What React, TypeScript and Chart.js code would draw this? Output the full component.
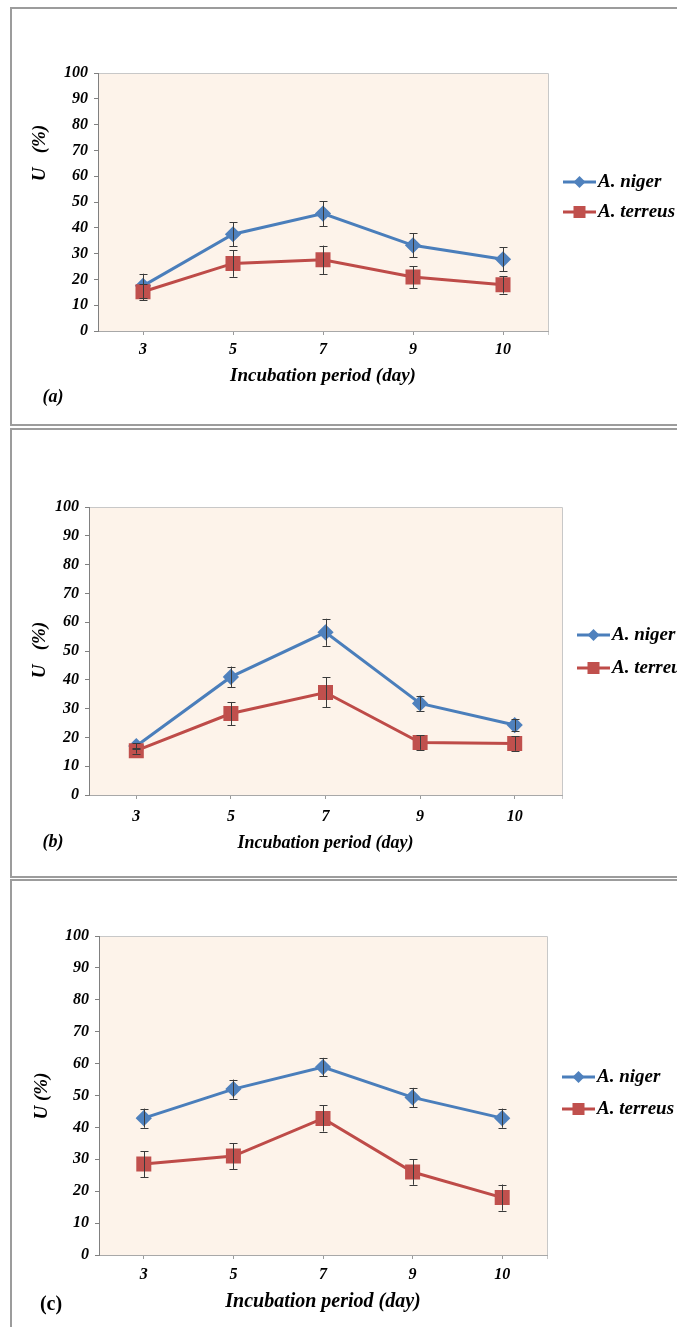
import React, { useEffect, useRef } from 'react';
import { Chart, registerables } from 'chart.js';

Chart.register(...registerables);

// ---------- data ----------
const categories = ['3', '5', '7', '9', '10'];
const seriesNames = ['A. niger', 'A. terreus'];
const xTitle = 'Incubation period (day)';
const yMin = 0;
const yMax = 100;
const yStep = 10;

const nigerA = [17.5, 37.5, 45.5, 33.2, 27.8];
const nigerErrA = [4.7, 4.6, 4.8, 4.6, 4.6];
const terreusA = [15.2, 26.2, 27.6, 20.9, 17.9];
const terreusErrA = [3.2, 5.2, 5.5, 4.2, 3.4];

const nigerB = [17.0, 41.0, 56.5, 31.8, 24.3];
const nigerErrB = [1.0, 3.6, 4.7, 2.5, 2.0];
const terreusB = [15.4, 28.3, 35.6, 18.2, 17.9];
const terreusErrB = [1.0, 4.0, 5.2, 2.5, 2.5];

const nigerC = [42.9, 52.0, 58.9, 49.4, 42.9];
const nigerErrC = [3.0, 3.0, 2.9, 3.0, 3.0];
const terreusC = [28.5, 31.0, 42.8, 26.0, 18.0];
const terreusErrC = [4.1, 4.1, 4.1, 4.0, 4.1];

const yTitles = ['U   (%)', 'U   (%)', 'U (%)'];
const panelLabels = ['(a)', '(b)', '(c)'];

// ---------- styles ----------
const FONT = "'Liberation Serif', 'Times New Roman', serif";
const BLUE_LINE = '#4A7EBB';
const BLUE_FILL = '#4F81BD';
const RED_LINE = '#BE4B48';
const RED_FILL = '#C0504D';
const PLOT_BG = '#FDF3EA';

type PanelGeo = {
  top: number; height: number; L: number; R: number; T: number; B: number;
  hx: number; xFont: number; tickPad: number;
  yTitleX: number; yTitleY: number; labelX: number; labelY: number; labelItalic: boolean;
  legendY: number[]; boxTop: number; boxHeight: number;
};

const panels: PanelGeo[] = [
  { top: 0, height: 428, L: 98, R: 548, T: 73, B: 331, hx: 56, xFont: 19, tickPad: 5,
    yTitleX: 40, yTitleY: 153, labelX: 53, labelY: 397, labelItalic: true,
    legendY: [182, 212], boxTop: 7, boxHeight: 419 },
  { top: 428, height: 451, L: 89, R: 562, T: 507, B: 795, hx: 59, xFont: 18, tickPad: 8,
    yTitleX: 40, yTitleY: 650, labelX: 53, labelY: 842, labelItalic: true,
    legendY: [635, 668], boxTop: 428, boxHeight: 450 },
  { top: 879, height: 448, L: 99, R: 547, T: 936, B: 1255, hx: 59, xFont: 20, tickPad: 6,
    yTitleX: 42, yTitleY: 1096, labelX: 51, labelY: 1305, labelItalic: false,
    legendY: [1077, 1109], boxTop: 879, boxHeight: 500 },
];

const panelData = [
  { niger: nigerA, nigerErr: nigerErrA, terreus: terreusA, terreusErr: terreusErrA },
  { niger: nigerB, nigerErr: nigerErrB, terreus: terreusB, terreusErr: terreusErrB },
  { niger: nigerC, nigerErr: nigerErrC, terreus: terreusC, terreusErr: terreusErrC },
];

function drawDiamond(ctx: CanvasRenderingContext2D, x: number, y: number, r: number) {
  ctx.beginPath();
  ctx.moveTo(x, y - r);
  ctx.lineTo(x + r, y);
  ctx.lineTo(x, y + r);
  ctx.lineTo(x - r, y);
  ctx.closePath();
  ctx.fill();
}

function makeDecoPlugin(idx: number) {
  const g = panels[idx];
  return {
    id: 'deco' + idx,
    beforeDraw(chart: any) {
      const { ctx, chartArea: a } = chart;
      ctx.save();
      ctx.fillStyle = PLOT_BG;
      ctx.fillRect(a.left, a.top, a.right - a.left, a.bottom - a.top);
      ctx.strokeStyle = '#C8C8C8';
      ctx.lineWidth = 1;
      ctx.beginPath();
      ctx.moveTo(a.left, a.top + 0.5);
      ctx.lineTo(a.right + 0.5, a.top + 0.5);
      ctx.lineTo(a.right + 0.5, a.bottom + 4);
      ctx.stroke();
      ctx.restore();
    },
    afterDatasetsDraw(chart: any) {
      const { ctx } = chart;
      const ys = chart.scales.y;
      ctx.save();
      ctx.strokeStyle = '#3a3a3a';
      ctx.lineWidth = 1;
      chart.data.datasets.forEach((ds: any, di: number) => {
        const meta = chart.getDatasetMeta(di);
        const errs: number[] = ds.errors || [];
        meta.data.forEach((pt: any, i: number) => {
          const v = ds.data[i];
          const e = errs[i];
          if (e == null) return;
          const x = Math.round(pt.x) + 0.5;
          const yt = ys.getPixelForValue(v + e);
          const yb = ys.getPixelForValue(v - e);
          ctx.beginPath();
          ctx.moveTo(x, yt);
          ctx.lineTo(x, yb);
          ctx.moveTo(x - 4, Math.round(yt) + 0.5);
          ctx.lineTo(x + 4, Math.round(yt) + 0.5);
          ctx.moveTo(x - 4, Math.round(yb) + 0.5);
          ctx.lineTo(x + 4, Math.round(yb) + 0.5);
          ctx.stroke();
        });
      });
      ctx.restore();
    },
    afterDraw(chart: any) {
      const { ctx, chartArea: a } = chart;
      ctx.save();
      // legend
      const lx = a.right + 15;
      chart.data.datasets.forEach((ds: any, di: number) => {
        const y = g.legendY[di] - g.top;
        ctx.strokeStyle = ds.borderColor;
        ctx.lineWidth = 3;
        ctx.beginPath();
        ctx.moveTo(lx, y);
        ctx.lineTo(lx + 33, y);
        ctx.stroke();
        ctx.fillStyle = ds.pointBackgroundColor;
        if (ds.pointStyle === 'rectRot') {
          drawDiamond(ctx, lx + 16.5, y, 6);
        } else {
          ctx.fillRect(lx + 16.5 - 6, y - 6, 12, 12);
        }
        ctx.fillStyle = '#000';
        ctx.font = `italic bold 19px ${FONT}`;
        ctx.textAlign = 'left';
        ctx.textBaseline = 'middle';
        ctx.fillText(ds.label, lx + 35, y);
      });
      // y title
      ctx.save();
      ctx.translate(g.yTitleX, g.yTitleY - g.top);
      ctx.rotate(-Math.PI / 2);
      ctx.font = `italic bold 19px ${FONT}`;
      ctx.fillStyle = '#000';
      ctx.textAlign = 'center';
      ctx.textBaseline = 'middle';
      ctx.fillText(yTitles[idx], 0, 0);
      ctx.restore();
      // panel label
      ctx.font = `${g.labelItalic ? 'italic ' : ''}bold ${g.labelItalic ? 18 : 20}px ${FONT}`;
      ctx.fillStyle = '#000';
      ctx.textAlign = 'center';
      ctx.textBaseline = 'middle';
      ctx.fillText(panelLabels[idx], g.labelX, g.labelY - g.top);
      ctx.restore();
    },
  };
}

function PanelChart({ idx }: { idx: number }) {
  const ref = useRef<HTMLCanvasElement | null>(null);
  const g = panels[idx];
  useEffect(() => {
    if (!ref.current) return;
    const d = panelData[idx];
    const Wy = 60;
    const chart = new Chart(ref.current, {
      type: 'line',
      data: {
        labels: categories,
        datasets: [
          {
            label: seriesNames[0],
            data: d.niger,
            errors: d.nigerErr,
            borderColor: BLUE_LINE,
            backgroundColor: BLUE_FILL,
            pointBackgroundColor: BLUE_FILL,
            pointBorderColor: BLUE_FILL,
            pointStyle: 'rectRot',
            pointRadius: 6,
            borderWidth: 3,
            tension: 0,
            order: 1,
          } as any,
          {
            label: seriesNames[1],
            data: d.terreus,
            errors: d.terreusErr,
            borderColor: RED_LINE,
            backgroundColor: RED_FILL,
            pointBackgroundColor: RED_FILL,
            pointBorderColor: RED_FILL,
            pointStyle: 'rect',
            pointRadius: 8.5,
            borderWidth: 3,
            tension: 0,
            order: 0,
          } as any,
        ],
      },
      options: {
        responsive: false,
        animation: false,
        events: [],
        layout: {
          padding: {
            left: g.L - Wy,
            right: 677 - g.R,
            top: g.T - g.top,
            bottom: g.height - (g.B - g.top) - g.hx,
          },
        },
        plugins: {
          legend: { display: false },
          tooltip: { enabled: false },
          title: { display: false },
        },
        scales: {
          x: {
            type: 'category',
            offset: true,
            afterFit: (s: any) => { s.height = g.hx; },
            grid: {
              display: true,
              drawOnChartArea: false,
              drawTicks: true,
              tickLength: 4,
              offset: false,
              color: '#9a9a9a',
            },
            border: { display: true, color: '#a8a8a8', width: 1 },
            ticks: {
              color: '#000',
              padding: g.tickPad,
              font: { family: FONT, size: 16, weight: 'bold', style: 'italic' },
            },
            title: {
              display: true,
              text: xTitle,
              color: '#000',
              padding: 0,
              font: { family: FONT, size: g.xFont, weight: 'bold', style: 'italic' },
            },
          },
          y: {
            min: yMin,
            max: yMax,
            afterFit: (s: any) => { s.width = Wy; },
            grid: {
              display: true,
              drawOnChartArea: false,
              drawTicks: true,
              tickLength: 4,
              color: '#808080',
            },
            border: { display: true, color: '#808080', width: 1 },
            ticks: {
              stepSize: yStep,
              color: '#000',
              padding: 6,
              font: { family: FONT, size: 16, weight: 'bold', style: 'italic' },
            },
          },
        },
      } as any,
      plugins: [makeDecoPlugin(idx)],
    });
    return () => chart.destroy();
  }, [idx]);
  return (
    <canvas
      ref={ref}
      width={677}
      height={g.height}
      style={{ position: 'absolute', left: 0, top: g.top, width: 677, height: g.height }}
    />
  );
}

export default function App() {
  return (
    <div
      style={{
        position: 'absolute',
        left: 0,
        top: 0,
        width: 677,
        height: 1327,
        background: '#fff',
        overflow: 'hidden',
      }}
    >
      {panels.map((g, i) => (
        <div
          key={'box' + i}
          style={{
            position: 'absolute',
            left: 10,
            top: g.boxTop,
            width: 720,
            height: g.boxHeight,
            border: '2px solid #9c9c9c',
            boxSizing: 'border-box',
          }}
        />
      ))}
      {panels.map((_, i) => (
        <PanelChart key={'chart' + i} idx={i} />
      ))}
    </div>
  );
}
